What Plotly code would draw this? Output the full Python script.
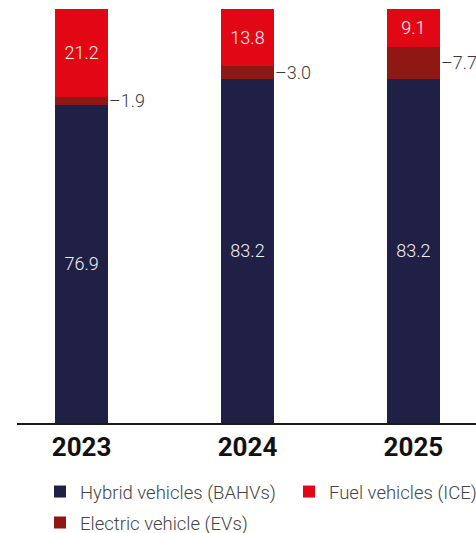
import plotly.graph_objects as go

years = ["2023", "2024", "2025"]
hybrid = [76.9, 83.2, 83.2]
electric = [1.9, 3.0, 7.7]
fuel = [21.2, 13.8, 9.1]

NAVY = "#201F45"
DARKRED = "#8F1814"
RED = "#E20714"
FONT = "Roboto"

xs = list(range(len(years)))

fig = go.Figure()
bar_common = dict(width=0.32, marker_line_width=0)
fig.add_trace(go.Bar(
    x=xs, y=hybrid, name="Hybrid vehicles (BAHVs)", marker_color=NAVY,
    texttemplate="%{y:.1f}", textposition="inside",
    insidetextanchor="middle", textangle=0,
    textfont=dict(color="#F2F2F2", size=18, family=FONT, weight=300),
    legend="legend", **bar_common,
))
fig.add_trace(go.Bar(
    x=xs, y=electric, name="Electric vehicle (EVs)", marker_color=DARKRED,
    textposition="none", legend="legend2", **bar_common,
))
fig.add_trace(go.Bar(
    x=xs, y=fuel, name="Fuel vehicles (ICE)", marker_color=RED,
    texttemplate="%{y:.1f}", textposition="inside",
    insidetextanchor="middle", textangle=0,
    textfont=dict(color="#F7F7F7", size=18, family=FONT, weight=300),
    legend="legend3", **bar_common,
))

for i, (h, e) in enumerate(zip(hybrid, electric)):
    fig.add_annotation(
        x=i, y=h + e / 2, xref="x", yref="y", text=f"–{e:.1f}",
        showarrow=False, xanchor="left", yanchor="middle", xshift=25.5,
        font=dict(color="#3A3A3A", size=18, family=FONT, weight=300),
    )

legend_common = dict(
    orientation="h", xanchor="left", yanchor="middle",
    font=dict(color="#444444", size=18.5, family=FONT, weight=300),
    bgcolor="rgba(0,0,0,0)",
)

fig.update_layout(
    width=476, height=533,
    margin=dict(l=17, r=0, t=9, b=110, autoexpand=False),
    barmode="stack",
    plot_bgcolor="white", paper_bgcolor="white",
    xaxis=dict(
        range=[-0.389, 2.377], showgrid=False,
        tickvals=xs, ticktext=years,
        showline=True, linecolor="#1A1A1A", linewidth=1.5, ticks="",
        tickfont=dict(size=26, color="#111111", family=FONT, weight=700),
        zeroline=False, fixedrange=True, automargin=False,
    ),
    yaxis=dict(range=[0, 100], visible=False, fixedrange=True),
    legend=dict(x=0.0501, y=-0.1667, **legend_common),
    legend2=dict(x=0.0501, y=-0.2415, **legend_common),
    legend3=dict(x=0.5926, y=-0.1667, **legend_common),
    showlegend=True,
)

fig.write_html("out.html")
